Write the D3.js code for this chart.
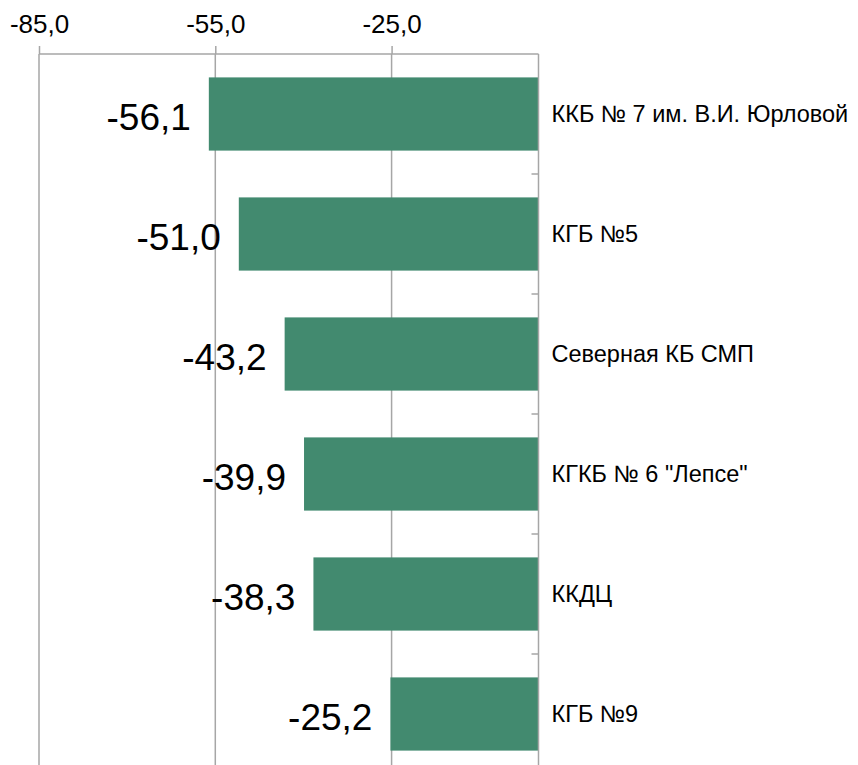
<!DOCTYPE html>
<html>
<head>
<meta charset="utf-8">
<script src="https://cdn.jsdelivr.net/npm/d3@7"></script>
<style>
    body { margin: 0; background: #fff; }
    svg text { font-family: "Liberation Sans", Arial, sans-serif; fill: #000; }
</style>
</head>
<body>
<svg id="chart" width="858" height="765"></svg>
<script>

var categories = [
    'ККБ № 7 им. В.И. Юрловой',
    'КГБ №5',
    'Северная КБ СМП',
    'КГКБ № 6 "Лепсе"',
    'ККДЦ',
    'КГБ №9'
];

var values = [-56.1, -51.0, -43.2, -39.9, -38.3, -25.2];

var tick_values = [-85, -55, -25];

var svg = d3.select('#chart');

var axis_y = 54,
    grid_color = '#a6a6a6',
    bar_color = '#428a6f';

var x = d3.scaleLinear()
    .domain([-85, 0])
    .range([39, 538.5]);

var y = d3.scaleBand()
    .domain(categories)
    .range([axis_y, axis_y + 720])
    .paddingInner(0.39)
    .paddingOuter(0.195);

// comma decimal, plain hyphen for the sign
var fmt = function (v) { return v.toFixed(1).replace('.', ','); };

// vertical gridlines
svg.append('g')
    .selectAll('line')
    .data(tick_values)
    .enter()
    .append('line')
    .attr('x1', function (d) { return x(d); })
    .attr('x2', function (d) { return x(d); })
    .attr('y1', axis_y)
    .attr('y2', 765)
    .attr('stroke', grid_color)
    .attr('stroke-width', 1.5);

// top value axis
var x_axis = svg.append('g')
    .attr('transform', 'translate(0,' + axis_y + ')')
    .call(d3.axisTop(x)
        .tickValues(tick_values)
        .tickSize(8)
        .tickPadding(13)
        .tickFormat(fmt));

x_axis.select('.domain')
    .attr('d', 'M' + x(-85) + ',0H' + x(0))
    .attr('stroke', grid_color)
    .attr('stroke-width', 1.5);

x_axis.selectAll('.tick line')
    .attr('stroke', grid_color)
    .attr('stroke-width', 1.5);

x_axis.selectAll('.tick text')
    .style('font-size', '26px')
    .attr('fill', '#000');

// bars
svg.append('g')
    .selectAll('rect')
    .data(values)
    .enter()
    .append('rect')
    .attr('x', function (d) { return x(d); })
    .attr('y', function (d, i) { return y(categories[i]); })
    .attr('width', function (d) { return x(0) - x(d); })
    .attr('height', y.bandwidth())
    .attr('fill', bar_color);

// category axis at zero
var y_axis = svg.append('g')
    .attr('transform', 'translate(' + x(0) + ',0)');

y_axis.append('line')
    .attr('x1', 0)
    .attr('x2', 0)
    .attr('y1', axis_y)
    .attr('y2', 765)
    .attr('stroke', grid_color)
    .attr('stroke-width', 1.5);

y_axis.selectAll('line.cat-tick')
    .data(categories.slice(1))
    .enter()
    .append('line')
    .attr('class', 'cat-tick')
    .attr('x1', -7)
    .attr('x2', 0)
    .attr('y1', function (d) { return y(d) - y.step() * y.paddingInner() / 2; })
    .attr('y2', function (d) { return y(d) - y.step() * y.paddingInner() / 2; })
    .attr('stroke', grid_color)
    .attr('stroke-width', 1.5);

y_axis.selectAll('text')
    .data(categories)
    .enter()
    .append('text')
    .attr('x', 13)
    .attr('y', function (d) { return y(d) + y.bandwidth() / 2; })
    .attr('dy', '0.35em')
    .style('font-size', '23.5px')
    .text(function (d) { return d; });

// value labels
svg.append('g')
    .selectAll('text')
    .data(values)
    .enter()
    .append('text')
    .attr('x', function (d) { return x(d) - 18; })
    .attr('y', function (d, i) { return y(categories[i]) + y.bandwidth() / 2; })
    .attr('dy', '0.42em')
    .attr('text-anchor', 'end')
    .style('font-size', '37px')
    .text(fmt);

</script>
</body>
</html>
